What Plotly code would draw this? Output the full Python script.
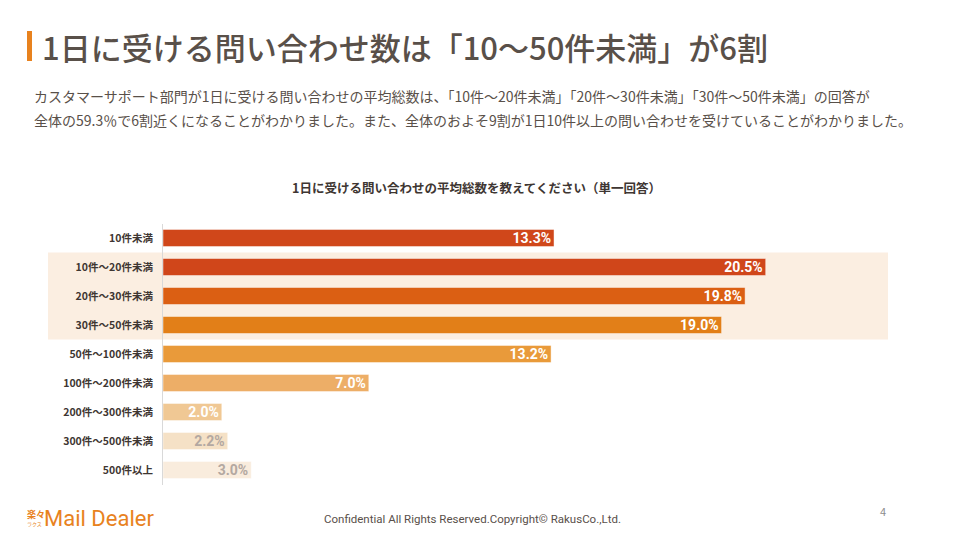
import plotly.graph_objects as go

categories = ["10件未満", "10件～20件未満", "20件～30件未満", "30件～50件未満",
              "50件～100件未満", "100件～200件未満", "200件～300件未満",
              "300件～500件未満", "500件以上"]
values = [13.3, 20.5, 19.8, 19.0, 13.2, 7.0, 2.0, 2.2, 3.0]
value_labels = ["13.3%", "20.5%", "19.8%", "19.0%", "13.2%", "7.0%", "2.0%", "2.2%", "3.0%"]

bar_colors = ["#D0471A", "#D0461A", "#DB5F13", "#E27F18", "#E99A3A",
              "#EDAE67", "#F0C894", "#F5E1C6", "#F9ECDD"]
label_colors = ["#FFFFFF"] * 7 + ["#B3A8A1", "#B3A8A1"]

FONT = "Noto Sans CJK JP"
W, H = 960, 540

fig = go.Figure()
fig.add_trace(go.Bar(
    x=values, y=categories, orientation="h",
    marker=dict(color=bar_colors, line=dict(color="rgba(255,255,255,0.45)", width=1)),
    width=0.59,
    text=value_labels, textposition="inside", insidetextanchor="end",
    constraintext="none",
    textfont=dict(family="Roboto", size=14, color=label_colors, weight=700),
    cliponaxis=False, hoverinfo="skip",
))

x0p, x1p = 163 / W, (163 + 24 * 29.4) / W
y_top, y_bot = 223.5, 484.5

fig.update_layout(
    width=W, height=H,
    margin=dict(l=0, r=0, t=0, b=0),
    paper_bgcolor="#FFFFFF", plot_bgcolor="rgba(0,0,0,0)",
    showlegend=False,
    xaxis=dict(domain=[x0p, x1p], range=[0, 24], visible=False, fixedrange=True,
               automargin=False),
    yaxis=dict(domain=[(H - y_bot) / H, (H - y_top) / H],
               categoryorder="array", categoryarray=categories,
               autorange="reversed", automargin=False, fixedrange=True,
               showline=True, linecolor="#D9D9D9", linewidth=1,
               showgrid=False, zeroline=False,
               ticks="outside", ticklen=7, tickcolor="rgba(0,0,0,0)",
               tickfont=dict(family=FONT, size=10.5, color="#3E3632", weight=700)),
    font=dict(family=FONT),
)

# highlight band behind rows 2-4
fig.add_shape(type="rect", xref="paper", yref="y", layer="below",
              x0=48 / W, x1=888 / W, y0=0.5, y1=3.5,
              fillcolor="#FBEEE1", line=dict(width=0))

# title accent bar
fig.add_shape(type="rect", xref="paper", yref="paper",
              x0=27 / W, x1=32 / W, y0=(H - 61) / H, y1=(H - 31) / H,
              fillcolor="#E8821E", line=dict(width=0))

annotations = [
    dict(text="1日に受ける問い合わせ数は「10～50件未満」が6割", x=40 / W, y=(H - 47) / H,
         xanchor="left", yanchor="middle", font=dict(size=31, color="#595049", family=FONT, weight=500)),
    dict(text="カスタマーサポート部門が1日に受ける問い合わせの平均総数は、「10件～20件未満」「20件～30件未満」「30件～50件未満」の回答が",
         x=32 / W, y=(H - 96) / H, xanchor="left", yanchor="middle",
         font=dict(size=14, color="#595049", family=FONT)),
    dict(text="全体の59.3％で6割近くになることがわかりました。また、全体のおよそ9割が1日10件以上の問い合わせを受けていることがわかりました。",
         x=32 / W, y=(H - 120) / H, xanchor="left", yanchor="middle",
         font=dict(size=14, color="#595049", family=FONT)),
    dict(text="1日に受ける問い合わせの平均総数を教えてください（単一回答）", x=476 / W, y=(H - 187) / H,
         xanchor="center", yanchor="middle",
         font=dict(size=12.5, color="#3E3632", family=FONT, weight=700)),
    dict(text="Mail Dealer", x=42 / W, y=(H - 518) / H, xanchor="left", yanchor="middle",
         font=dict(size=22, color="#E8821E", family="Roboto")),
    dict(text="楽々", x=25 / W, y=(H - 514) / H, xanchor="left", yanchor="middle",
         font=dict(size=9, color="#E8821E", family=FONT, weight=700)),
    dict(text="ラクス", x=25 / W, y=(H - 524) / H, xanchor="left", yanchor="middle",
         font=dict(size=5, color="#E8821E", family=FONT)),
    dict(text="Confidential All Rights Reserved.Copyright© RakusCo.,Ltd.", x=472 / W, y=(H - 519) / H,
         xanchor="center", yanchor="middle",
         font=dict(size=11.5, color="#594F4A", family="Roboto")),
    dict(text="4", x=883 / W, y=(H - 511) / H, xanchor="center", yanchor="middle",
         font=dict(size=11, color="#8C8C8C", family=FONT)),
]
for a in annotations:
    a.update(xref="paper", yref="paper", showarrow=False)
    fig.add_annotation(**a)

fig.write_html("out.html", config={"displayModeBar": False},
               post_script="document.body.style.margin='0';document.body.style.overflow='hidden';")
